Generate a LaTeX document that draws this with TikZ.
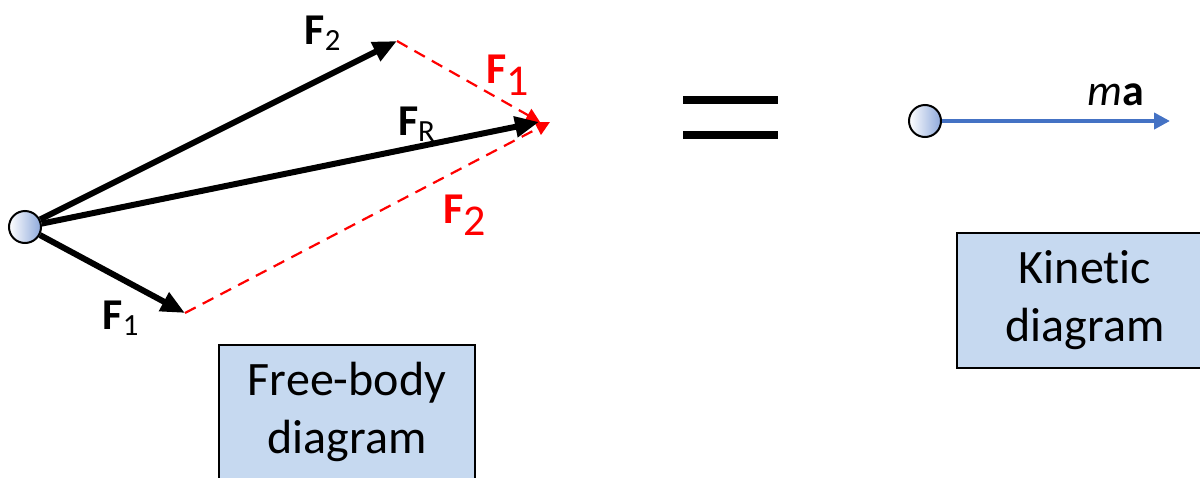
\documentclass[tikz,border=0pt]{standalone}
\usepackage{fontspec}
\setmainfont{Carlito}[Ligatures=NoCommon]
\usetikzlibrary{arrows.meta}
\definecolor{boxblue}{RGB}{198,217,240}
\definecolor{kinblue}{RGB}{68,114,196}
\definecolor{ballblue}{RGB}{142,169,219}
\newcommand{\forcelab}[1]{\textbf{F}\textsubscript{#1}}
\newcommand{\forcelabbig}[1]{\textbf{F}\raisebox{-0.28em}{#1}}
\tikzset{
  particle/.style={circle, draw=black, line width=1pt, minimum size=16pt, inner sep=0pt,
    left color=white, right color=ballblue},
  force/.style={line width=3pt, -{Triangle[length=12pt,width=10pt]}},
  ghost/.style={red, line width=1.1pt, dash pattern=on 6pt off 4pt, -{Triangle[length=7pt,width=7pt]}},
  flabel/.style={font=\fontsize{22}{26}\selectfont, inner sep=0pt},
  infobox/.style={draw, line width=1pt, fill=boxblue, minimum width=128pt, minimum height=67.5pt,
    align=center, font=\fontsize{24}{29}\selectfont},
}
\begin{document}
\begin{tikzpicture}[x=0.5pt, y=-0.5pt]
  \useasboundingbox (0,0) rectangle (1200,477);
  % free-body diagram
  \node[particle] (p1) at (25,227) {};
  \coordinate (f2) at (397,41);
  \coordinate (f1) at (185,313);
  \coordinate (fr) at (539,122);
  \coordinate (g1) at (540,122);
  \coordinate (g2) at (550,122);
  \draw[ghost] (f2) -- (g1);
  \draw[ghost] (f1) -- (g2);
  \draw[force] (p1) -- (f2);
  \draw[force] (p1) -- (fr);
  \draw[force] (p1) -- (f1);
  \node[flabel] (l2) at (323,33) {\forcelab{2}};
  \node[flabel] (lr) at (417,124) {\forcelab{R}};
  \node[flabel] (l1) at (121,318) {\forcelab{1}};
  \node[flabel, red] (r1) at (508,75) {\forcelabbig{1}};
  \node[flabel, red] (r2) at (465,215) {\forcelabbig{2}};
  \node[infobox] (fbd) at (347,412) {Free-body\\diagram};

  % equals sign
  \fill (683,96) rectangle (778,104);
  \fill (683,131) rectangle (778,139);

  % kinetic diagram
  \node[particle] (p2) at (925,121) {};
  \coordinate (ma) at (1170,121);
  \draw[kinblue, line width=2pt, -{Triangle[length=8pt,width=8pt]}] (p2) -- (ma);
  \node[flabel] (lma) at (1116,95) {\textit{m}\textbf{a}};
  \node[infobox] (kd) at (1085,300) {Kinetic\\diagram};
\end{tikzpicture}
\end{document}
